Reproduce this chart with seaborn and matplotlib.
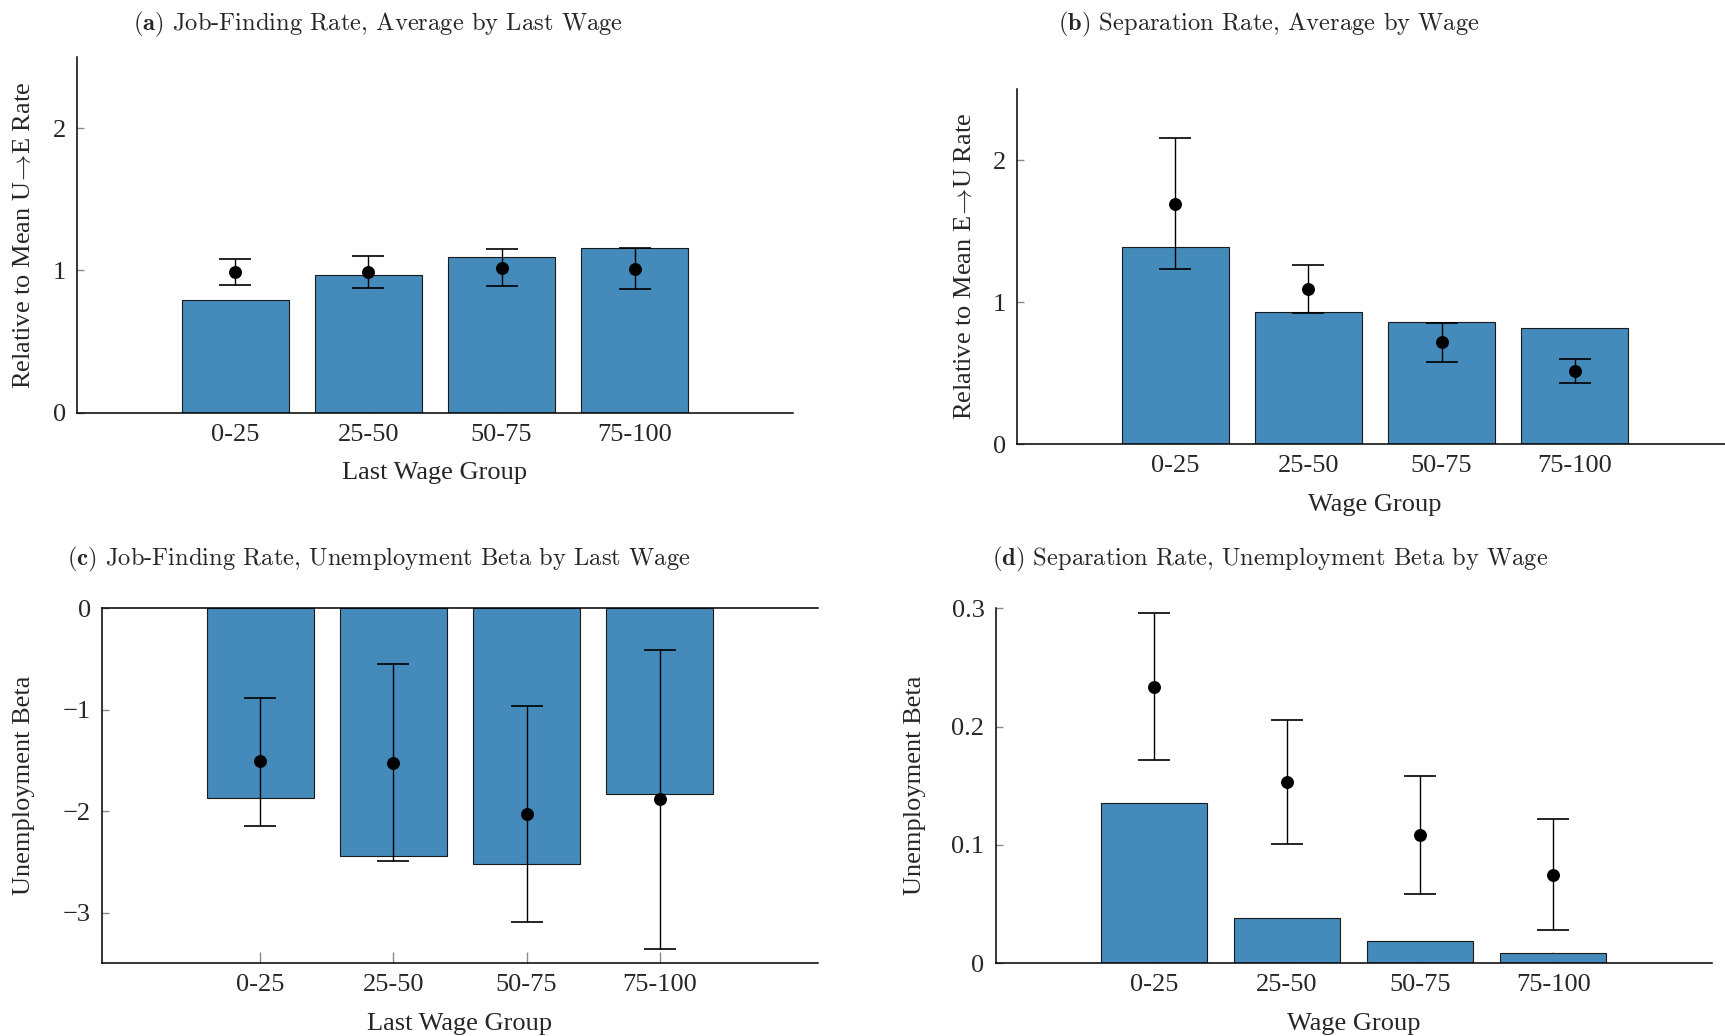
import matplotlib
matplotlib.use("Agg")
import matplotlib.pyplot as plt
import seaborn as sns
import numpy as np

# ---- data -------------------------------------------------------------
groups = ["0-25", "25-50", "50-75", "75-100"]

# (a) job-finding rate, average by last wage
a_bar = [0.79, 0.97, 1.094, 1.155]
a_pt = [0.99, 0.99, 1.021, 1.012]
a_lo = [0.897, 0.876, 0.890, 0.871]
a_hi = [1.082, 1.103, 1.150, 1.155]

# (b) separation rate, average by wage
b_bar = [1.387, 0.934, 0.864, 0.822]
b_pt = [1.692, 1.092, 0.718, 0.519]
b_lo = [1.232, 0.925, 0.582, 0.434]
b_hi = [2.155, 1.263, 0.852, 0.601]

# (c) job-finding rate, unemployment beta by last wage
c_bar = [-1.867, -2.445, -2.524, -1.827]
c_pt = [-1.508, -1.522, -2.028, -1.883]
c_lo = [-2.143, -2.491, -3.089, -3.355]
c_hi = [-0.881, -0.549, -0.966, -0.411]

# (d) separation rate, unemployment beta by wage
d_bar = [0.1358, 0.038, 0.0192, 0.0085]
d_pt = [0.2338, 0.153, 0.1082, 0.0746]
d_lo = [0.1718, 0.1008, 0.0583, 0.0282]
d_hi = [0.296, 0.2056, 0.1583, 0.122]

ab_yticks = [0, 1, 2]
ab_yticklabels = ["0", "1", "2"]
c_yticks = [0, -1, -2, -3]
c_yticklabels = ["0", "\u22121", "\u22122", "\u22123"]
d_yticks = [0, 0.1, 0.2, 0.3]
d_yticklabels = ["0", "0.1", "0.2", "0.3"]

titles = [
    ("(a)", "Job-Finding Rate, Average by Last Wage"),
    ("(b)", "Separation Rate, Average by Wage"),
    ("(c)", "Job-Finding Rate, Unemployment Beta by Last Wage"),
    ("(d)", "Separation Rate, Unemployment Beta by Wage"),
]

# ---- style ------------------------------------------------------------
sns.set_theme(style="white")
plt.rcParams["font.family"] = ["Liberation Serif", "DejaVu Serif"]
plt.rcParams["mathtext.fontset"] = "cm"

BAR = "#448bbb"
W, H = 1725, 1036
fig = plt.figure(figsize=(W / 100, H / 100), dpi=100)

AX_W, AX_H = 716, 355


def make_ax(left_px, bottom_px):
    return fig.add_axes([left_px / W, (H - bottom_px) / H, AX_W / W, AX_H / H])


def panel(ax, bars, pts, lo, hi, ylim, yticks, yticklabels, xlabel, ylabel,
          ylab_off, top_line=False):
    sns.barplot(x=groups, y=bars, color=BAR, saturation=1, width=0.8,
                edgecolor="#1a1a1a", linewidth=0.8, ax=ax, zorder=2)
    pos = np.arange(len(groups))
    pts = np.asarray(pts)
    yerr = [pts - np.asarray(lo), np.asarray(hi) - pts]
    ax.errorbar(pos, pts, yerr=yerr, fmt="o", color="black", ms=8.3,
                elinewidth=1.0, capsize=11.5, capthick=1.2, zorder=4)
    ax.set_xlim(-1.19, 4.19)
    ax.set_ylim(*ylim)
    ax.set_yticks(yticks)
    ax.set_yticklabels(yticklabels)
    ax.set_axisbelow(True)
    for side in ("right", "top"):
        ax.spines[side].set_visible(False)
    if top_line:
        ax.spines["top"].set_visible(True)
    for side in ("left", "bottom", "top"):
        ax.spines[side].set_color("black")
        ax.spines[side].set_linewidth(1.1)
    ax.tick_params(axis="y", direction="in", length=5, width=1.0,
                   color="#8a8a8a", labelsize=19, pad=8, left=True)
    ax.tick_params(axis="x", direction="in", length=8, width=1.0,
                   color="#8a8a8a", labelsize=19, pad=8, bottom=True)
    ax.set_xlabel(xlabel, fontsize=19)
    ax.set_ylabel(ylabel, fontsize=19)
    ax.xaxis.set_label_coords(0.5, -61 / AX_H)
    ax.xaxis.label.set_verticalalignment("center")
    ax.yaxis.set_label_coords(-ylab_off / AX_W, 0.5)
    ax.yaxis.label.set_verticalalignment("center")


ax_a = make_ax(77, 412.5)
panel(ax_a, a_bar, a_pt, a_lo, a_hi, (0, 2.5), ab_yticks, ab_yticklabels,
      "Last Wage Group", r"Relative to Mean U$\!\rightarrow\!$E Rate", 53)

ax_b = make_ax(1017, 444.3)
panel(ax_b, b_bar, b_pt, b_lo, b_hi, (0, 2.5), ab_yticks, ab_yticklabels,
      "Wage Group", r"Relative to Mean E$\!\rightarrow\!$U Rate", 52)

ax_c = make_ax(102, 963.3)
panel(ax_c, c_bar, c_pt, c_lo, c_hi, (-3.5, 0), c_yticks, c_yticklabels,
      "Last Wage Group", "Unemployment Beta", 78, top_line=True)

ax_d = make_ax(995.5, 963.3)
panel(ax_d, d_bar, d_pt, d_lo, d_hi, (0, 0.3), d_yticks, d_yticklabels,
      "Wage Group", "Unemployment Beta", 80)

# panel captions
title_pos = [(378, 24), (1269, 24), (379, 559), (1270, 559)]
for (tag, text), (x, y) in zip(titles, title_pos):
    fig.text(x / W, 1 - y / H, r"$\mathbf{" + tag + "}$ " + text,
             family="cmr10", fontsize=17.7, ha="center", va="center")

fig.savefig("out.png", dpi=100)
